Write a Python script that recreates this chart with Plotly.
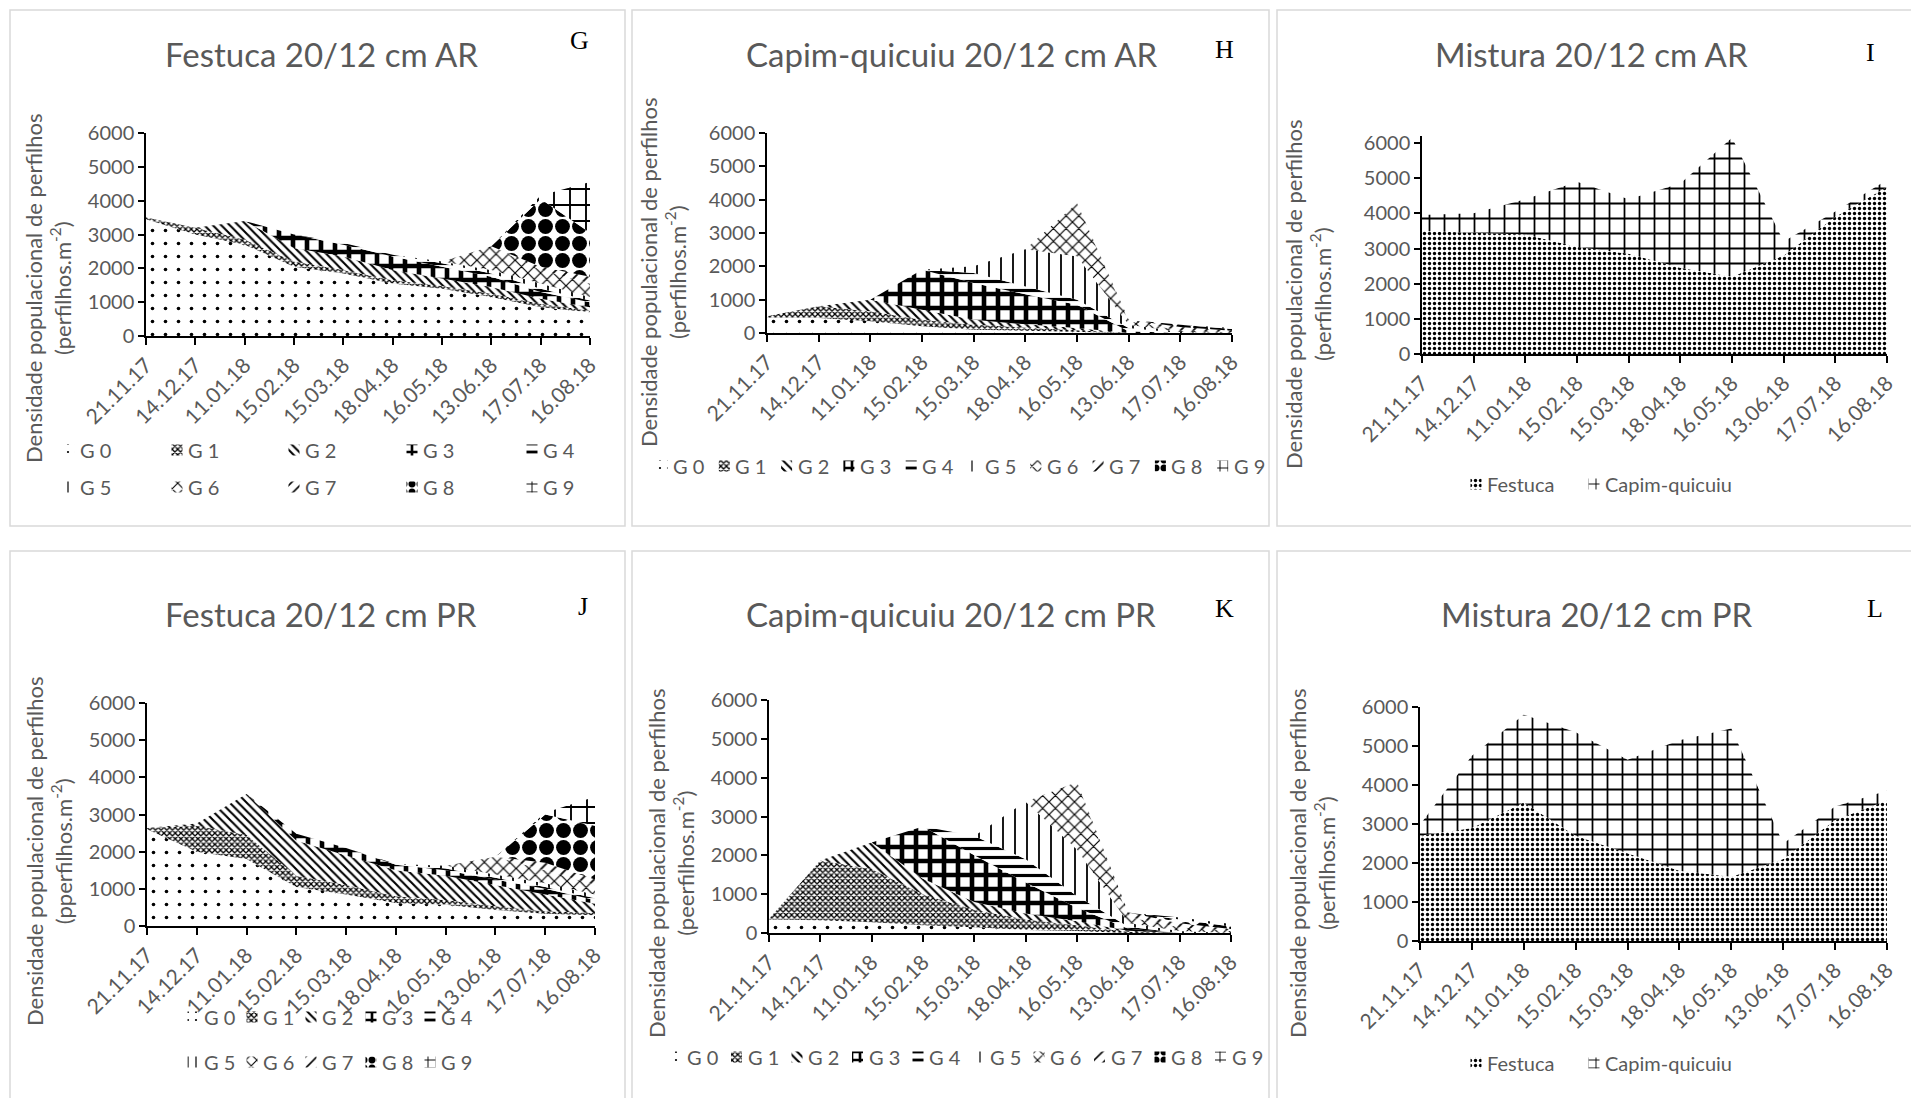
import plotly.graph_objects as go

# the page body adds an 8px margin, so the figure is drawn 8px smaller and all
# pixel positions are shifted by that amount
OFF = 8
W, H = 1919 - OFF, 1098 - OFF

dates = ["21.11.17", "14.12.17", "11.01.18", "15.02.18", "15.03.18",
         "18.04.18", "16.05.18", "13.06.18", "17.07.18", "16.08.18"]
generations = ["G 0", "G 1", "G 2", "G 3", "G 4", "G 5", "G 6", "G 7", "G 8", "G 9"]
species = ["Festuca", "Capim-quicuiu"]
yticks = [0, 1000, 2000, 3000, 4000, 5000, 6000]

# Festuca 20/12 cm AR (G) - one list per generation G0..G9
festuca_ar = [
    [3450, 3000, 2700, 2050, 1850, 1550, 1400, 1150, 850, 700],
    [50, 200, 150, 150, 100, 100, 80, 100, 100, 50],
    [0, 0, 550, 400, 400, 300, 220, 200, 150, 100],
    [0, 0, 0, 400, 350, 400, 350, 300, 200, 150],
    [0, 0, 0, 0, 50, 50, 100, 100, 100, 50],
    [0, 0, 0, 0, 0, 0, 50, 100, 150, 100],
    [0, 0, 0, 0, 0, 0, 0, 700, 400, 400],
    [0, 0, 0, 0, 0, 0, 0, 0, 100, 200],
    [0, 0, 0, 0, 0, 0, 0, 0, 2000, 1300],
    [0, 0, 0, 0, 0, 0, 0, 0, 100, 1500],
]
# Capim-quicuiu 20/12 cm AR (H)
capim_ar = [
    [450, 450, 350, 200, 100, 60, 30, 0, 0, 0],
    [50, 350, 300, 200, 150, 100, 60, 0, 0, 0],
    [0, 0, 350, 300, 150, 100, 60, 0, 0, 0],
    [0, 0, 0, 1200, 1100, 900, 700, 50, 0, 0],
    [0, 0, 0, 0, 300, 250, 150, 100, 0, 0],
    [0, 0, 0, 0, 200, 1100, 1300, 100, 30, 0],
    [0, 0, 0, 0, 0, 0, 1600, 100, 50, 20],
    [0, 0, 0, 0, 0, 0, 0, 50, 100, 50],
    [0, 0, 0, 0, 0, 0, 0, 0, 70, 50],
    [0, 0, 0, 0, 0, 0, 0, 0, 0, 30],
]
# Mistura 20/12 cm AR (I)
mistura_ar_festuca = [3500, 3450, 3400, 3050, 2850, 2450, 2200, 2800, 3900, 4750]
mistura_ar_capim = [450, 550, 1000, 1850, 1550, 2400, 3950, 400, 150, 200]

# Festuca 20/12 cm PR (J)
festuca_pr = [
    [2600, 2000, 1800, 1050, 850, 620, 570, 430, 330, 290],
    [40, 700, 650, 300, 250, 180, 130, 100, 70, 60],
    [0, 60, 1100, 950, 800, 700, 650, 570, 450, 250],
    [0, 0, 0, 180, 200, 150, 150, 150, 150, 100],
    [0, 0, 0, 0, 0, 20, 50, 50, 50, 50],
    [0, 0, 0, 0, 0, 0, 70, 80, 100, 100],
    [0, 0, 0, 0, 0, 0, 0, 480, 350, 250],
    [0, 0, 0, 0, 0, 0, 0, 0, 200, 150],
    [0, 0, 0, 0, 0, 0, 0, 0, 1300, 1450],
    [0, 0, 0, 0, 0, 0, 0, 0, 50, 780],
]
# Capim-quicuiu 20/12 cm PR (K)
capim_pr = [
    [350, 330, 280, 200, 150, 80, 50, 0, 0, 0],
    [20, 1540, 1370, 800, 450, 270, 150, 30, 0, 0],
    [0, 0, 680, 400, 200, 150, 100, 30, 0, 0],
    [0, 0, 0, 1340, 1200, 800, 350, 50, 0, 0],
    [0, 0, 0, 0, 500, 600, 300, 50, 0, 0],
    [0, 0, 0, 0, 0, 1480, 1200, 100, 50, 0],
    [0, 0, 0, 0, 0, 0, 1740, 150, 100, 50],
    [0, 0, 0, 0, 0, 0, 0, 120, 100, 50],
    [0, 0, 0, 0, 0, 0, 0, 0, 100, 70],
    [0, 0, 0, 0, 0, 0, 0, 0, 50, 60],
]
# Mistura 20/12 cm PR (L)
mistura_pr_festuca = [2700, 2900, 3550, 2700, 2250, 1800, 1650, 2100, 3100, 3600]
mistura_pr_capim = [280, 1850, 2250, 2650, 2400, 3350, 3800, 400, 350, 250]

# ---------------- styling ----------------
FONT = "Lato"
GRAY = "#595959"

gen_patterns = [
    dict(shape=".", size=13, solidity=0.06),
    dict(shape="x", size=4, solidity=0.55),
    dict(shape="\\", size=6, solidity=0.35),
    dict(shape="+", size=14, solidity=0.55),
    dict(shape="-", size=9, solidity=0.35),
    dict(shape="|", size=12, solidity=0.15),
    dict(shape="x", size=9, solidity=0.25),
    dict(shape="/", size=9, solidity=0.2),
    dict(shape=".", size=17, solidity=0.6),
    dict(shape="+", size=16, solidity=0.22),
]
mix_patterns = [
    dict(shape=".", size=5, solidity=0.35),
    dict(shape="+", size=15, solidity=0.22),
]


def px_x(v):
    return (v - OFF) / W


def px_y(v):
    return 1 - (v - OFF) / H


panels = [
    dict(name="Festuca 20/12 cm AR", letter="G", area=(146, 590, 133, 336), ymax=6000,
         box=(10, 625, 10, 526), title=(321, 54), let=(579, 40),
         ytitle_pos=(48, 288), yunit="(perfilhos.m<sup>-2</sup>)"),
    dict(name="Capim-quicuiu 20/12 cm AR", letter="H", area=(767, 1232, 133, 333), ymax=6000,
         box=(632, 1269, 10, 526), title=(951, 54), let=(1224, 50),
         ytitle_pos=(663, 272), yunit="(perfilhos.m<sup>-2</sup>)"),
    dict(name="Mistura 20/12 cm AR", letter="I", area=(1422, 1887, 136, 354), ymax=6200,
         box=(1277, 1925, 10, 526), title=(1591, 54), let=(1870, 52),
         ytitle_pos=(1308, 294), yunit="(perfilhos.m<sup>-2</sup>)"),
    dict(name="Festuca 20/12 cm PR", letter="J", area=(147, 595, 703, 926), ymax=6000,
         box=(10, 625, 551, 1105), title=(321, 614), let=(583, 607),
         ytitle_pos=(49, 851), yunit="(pperfilhos.m<sup>-2</sup>)"),
    dict(name="Capim-quicuiu 20/12 cm PR", letter="K", area=(769, 1231, 700, 933), ymax=6000,
         box=(632, 1269, 551, 1105), title=(951, 614), let=(1224, 608),
         ytitle_pos=(671, 863), yunit="(peerfilhos.m<sup>-2</sup>)"),
    dict(name="Mistura 20/12 cm PR", letter="L", area=(1420, 1887, 707, 941), ymax=6000,
         box=(1277, 1925, 551, 1105), title=(1597, 614), let=(1875, 608),
         ytitle_pos=(1312, 863), yunit="(perfilhos.m<sup>-2</sup>)"),
]

series_sets = [
    (festuca_ar, generations, gen_patterns),
    (capim_ar, generations, gen_patterns),
    ([mistura_ar_festuca, mistura_ar_capim], species, mix_patterns),
    (festuca_pr, generations, gen_patterns),
    (capim_pr, generations, gen_patterns),
    ([mistura_pr_festuca, mistura_pr_capim], species, mix_patterns),
]

# legend rows: (panel index, item indices, y px, text x positions px)
legend_rows = [
    (0, range(0, 5), 450, [78, 186, 303, 421, 541]),
    (0, range(5, 10), 487, [78, 186, 303, 421, 541]),
    (1, range(0, 10), 466, [671 + 62.3 * k for k in range(10)]),
    (2, range(0, 2), 484, [1485, 1603]),
    (3, range(0, 5), 1017, [202, 261, 320, 380, 439]),
    (3, range(5, 10), 1062, [202, 261, 320, 380, 439]),
    (4, range(0, 10), 1057, [685 + 60.5 * k for k in range(10)]),
    (5, range(0, 2), 1063, [1485, 1603]),
]

fig = go.Figure()
layout = dict(
    template="none",
    width=W, height=H, margin=dict(l=0, r=0, t=0, b=0, autoexpand=False),
    paper_bgcolor="white", plot_bgcolor="rgba(0,0,0,0)",
    font=dict(family=FONT, color=GRAY),
    showlegend=False, barmode="overlay",
    shapes=[], annotations=[],
)

for i, (p, (data, names, pats)) in enumerate(zip(panels, series_sets)):
    n = "" if i == 0 else str(i + 1)
    xa, ya = "x" + n, "y" + n
    x0, x1, yt, yb = p["area"]
    layout["xaxis" + n] = dict(
        domain=[px_x(x0), px_x(x1)], anchor=ya, type="category",
        categoryorder="array", categoryarray=dates, range=[0, 9],
        showline=True, linecolor="black", linewidth=1.5, automargin=False,
        ticks="outside", ticklen=7, tickcolor="black", tickwidth=1.5,
        tickangle=-45, tickfont=dict(size=21, color=GRAY, family=FONT),
        showgrid=False, zeroline=False, fixedrange=True,
    )
    layout["yaxis" + n] = dict(
        domain=[px_y(yb), px_y(yt)], anchor=xa, range=[0, p["ymax"]],
        tickvals=yticks, showline=True, linecolor="black", linewidth=1.5,
        automargin=False,
        ticks="outside", ticklen=6, tickcolor="black", tickwidth=1.5,
        tickfont=dict(size=20, color=GRAY, family=FONT),
        showgrid=False, zeroline=False, fixedrange=True,
    )
    for k, (vals, nm) in enumerate(zip(data, names)):
        pat = pats[k]
        fig.add_trace(go.Scatter(
            x=dates, y=vals, name=nm, xaxis=xa, yaxis=ya,
            stackgroup="s" + str(i), mode="lines", line=dict(width=0),
            fillcolor="white",
            fillpattern=dict(shape=pat["shape"], size=pat["size"],
                             solidity=pat["solidity"], fgcolor="black",
                             bgcolor="white", fillmode="replace"),
            showlegend=False, hoverinfo="skip",
        ))
    bx0, bx1, by0, by1 = p["box"]
    layout["shapes"].append(dict(
        type="rect", xref="paper", yref="paper",
        x0=px_x(bx0), x1=px_x(bx1), y0=px_y(by1), y1=px_y(by0),
        line=dict(color="#d9d9d9", width=1.5), fillcolor="rgba(0,0,0,0)", layer="below"))
    layout["annotations"].append(dict(
        text=p["name"], xref="paper", yref="paper",
        x=px_x(p["title"][0]), y=px_y(p["title"][1]), xanchor="center", yanchor="middle",
        showarrow=False, font=dict(size=33, color=GRAY, family=FONT)))
    layout["annotations"].append(dict(
        text=p["letter"], xref="paper", yref="paper",
        x=px_x(p["let"][0]), y=px_y(p["let"][1]), xanchor="center", yanchor="middle",
        showarrow=False, font=dict(size=26, color="black", family="Liberation Serif")))
    layout["annotations"].append(dict(
        text="Densidade populacional de perfilhos<br>" + p["yunit"],
        xref="paper", yref="paper", textangle=-90,
        x=px_x(p["ytitle_pos"][0]), y=px_y(p["ytitle_pos"][1]),
        xanchor="center", yanchor="middle", showarrow=False,
        font=dict(size=22, color=GRAY, family=FONT)))

# ---- custom legends: pattern swatches (bars on a pixel-scaled overlay axis) + text ----
sw_x, sw_base, sw_shape, sw_size, sw_sol = [], [], [], [], []
SW = 11
for pi, idxs, ly, txs in legend_rows:
    names = series_sets[pi][1]
    pats = series_sets[pi][2]
    for k, tx in zip(idxs, txs):
        pat = pats[k]
        sw_x.append(tx - 9)
        sw_base.append(ly - SW / 2)
        sw_shape.append(pat["shape"])
        sw_size.append(max(4, min(pat["size"], 8)))
        sw_sol.append(pat["solidity"])
        layout["annotations"].append(dict(
            text=names[k], xref="paper", yref="paper",
            x=px_x(tx), y=px_y(ly), xanchor="left", yanchor="middle",
            showarrow=False, font=dict(size=20, color=GRAY, family=FONT)))

fig.add_trace(go.Bar(
    x=sw_x, y=[SW] * len(sw_x), base=sw_base, width=[SW] * len(sw_x),
    xaxis="x7", yaxis="y7", showlegend=False, hoverinfo="skip",
    marker=dict(color="white", line=dict(width=0),
                pattern=dict(shape=sw_shape, size=sw_size, solidity=sw_sol,
                             fgcolor="black", bgcolor="white", fillmode="replace")),
))
layout["xaxis7"] = dict(domain=[0, 1], anchor="y7", range=[OFF, OFF + W], visible=False,
                        fixedrange=True, automargin=False)
layout["yaxis7"] = dict(domain=[0, 1], anchor="x7", range=[OFF + H, OFF], visible=False,
                        fixedrange=True, automargin=False)

fig.update_layout(**layout)
fig.write_html("out.html")
